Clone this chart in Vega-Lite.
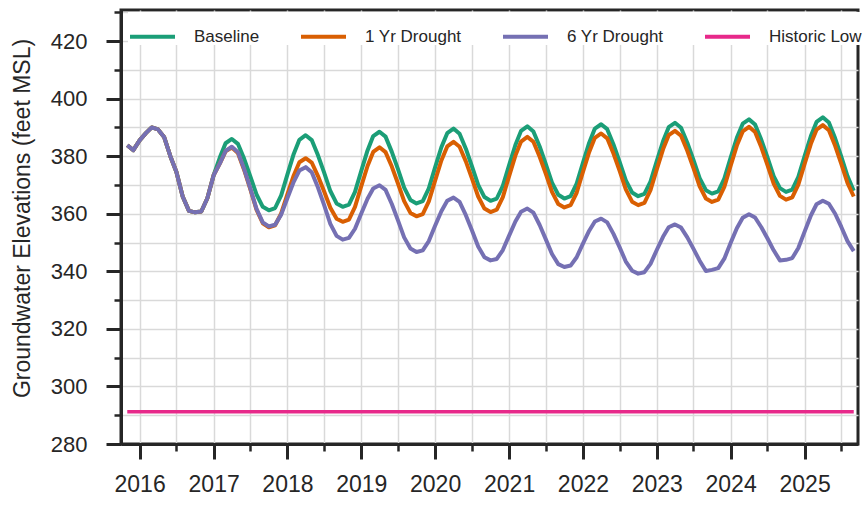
{
"$schema":"https://vega.github.io/schema/vega-lite/v6.json",
"width":737,"height":434,"autosize":"none",
"padding":{"left":121,"top":10,"right":7,"bottom":61},
"background":"white",
"config":{"font":"Liberation Sans","view":{"stroke":"#262626","strokeWidth":3}},
"data":{"values":[
{"date":"2015-11-01T00:00","series":"Baseline","value":383.8},{"date":"2015-12-01T00:00","series":"Baseline","value":382.1},
{"date":"2016-01-01T00:00","series":"Baseline","value":385.5},{"date":"2016-02-01T00:00","series":"Baseline","value":388.0},{"date":"2016-03-01T00:00","series":"Baseline","value":390.0},{"date":"2016-04-01T00:00","series":"Baseline","value":389.3},{"date":"2016-05-01T00:00","series":"Baseline","value":386.7},{"date":"2016-06-01T00:00","series":"Baseline","value":380.0},{"date":"2016-07-01T00:00","series":"Baseline","value":374.5},{"date":"2016-08-01T00:00","series":"Baseline","value":366.0},{"date":"2016-09-01T00:00","series":"Baseline","value":361.0},{"date":"2016-10-01T00:00","series":"Baseline","value":360.5},{"date":"2016-11-01T00:00","series":"Baseline","value":360.8},{"date":"2016-12-01T00:00","series":"Baseline","value":365.4},
{"date":"2017-01-01T00:00","series":"Baseline","value":373.4},{"date":"2017-02-01T00:00","series":"Baseline","value":379.6},{"date":"2017-03-01T00:00","series":"Baseline","value":384.5},{"date":"2017-04-01T00:00","series":"Baseline","value":386.0},{"date":"2017-05-01T00:00","series":"Baseline","value":384.3},{"date":"2017-06-01T00:00","series":"Baseline","value":379.1},{"date":"2017-07-01T00:00","series":"Baseline","value":373.1},{"date":"2017-08-01T00:00","series":"Baseline","value":366.7},{"date":"2017-09-01T00:00","series":"Baseline","value":362.4},{"date":"2017-10-01T00:00","series":"Baseline","value":361.2},{"date":"2017-11-01T00:00","series":"Baseline","value":362.0},{"date":"2017-12-01T00:00","series":"Baseline","value":366.4},
{"date":"2018-01-01T00:00","series":"Baseline","value":373.7},{"date":"2018-02-01T00:00","series":"Baseline","value":380.8},{"date":"2018-03-01T00:00","series":"Baseline","value":385.7},{"date":"2018-04-01T00:00","series":"Baseline","value":387.3},{"date":"2018-05-01T00:00","series":"Baseline","value":385.6},{"date":"2018-06-01T00:00","series":"Baseline","value":380.3},{"date":"2018-07-01T00:00","series":"Baseline","value":374.4},{"date":"2018-08-01T00:00","series":"Baseline","value":367.9},{"date":"2018-09-01T00:00","series":"Baseline","value":363.6},{"date":"2018-10-01T00:00","series":"Baseline","value":362.4},{"date":"2018-11-01T00:00","series":"Baseline","value":363.2},{"date":"2018-12-01T00:00","series":"Baseline","value":367.6},
{"date":"2019-01-01T00:00","series":"Baseline","value":374.9},{"date":"2019-02-01T00:00","series":"Baseline","value":382.0},{"date":"2019-03-01T00:00","series":"Baseline","value":387.0},{"date":"2019-04-01T00:00","series":"Baseline","value":388.5},{"date":"2019-05-01T00:00","series":"Baseline","value":386.8},{"date":"2019-06-01T00:00","series":"Baseline","value":381.5},{"date":"2019-07-01T00:00","series":"Baseline","value":375.6},{"date":"2019-08-01T00:00","series":"Baseline","value":369.1},{"date":"2019-09-01T00:00","series":"Baseline","value":364.8},{"date":"2019-10-01T00:00","series":"Baseline","value":363.6},{"date":"2019-11-01T00:00","series":"Baseline","value":364.4},{"date":"2019-12-01T00:00","series":"Baseline","value":368.8},
{"date":"2020-01-01T00:00","series":"Baseline","value":376.1},{"date":"2020-02-01T00:00","series":"Baseline","value":383.1},{"date":"2020-03-01T00:00","series":"Baseline","value":388.0},{"date":"2020-04-01T00:00","series":"Baseline","value":389.6},{"date":"2020-05-01T00:00","series":"Baseline","value":387.8},{"date":"2020-06-01T00:00","series":"Baseline","value":382.6},{"date":"2020-07-01T00:00","series":"Baseline","value":376.5},{"date":"2020-08-01T00:00","series":"Baseline","value":370.0},{"date":"2020-09-01T00:00","series":"Baseline","value":365.8},{"date":"2020-10-01T00:00","series":"Baseline","value":364.5},{"date":"2020-11-01T00:00","series":"Baseline","value":365.3},{"date":"2020-12-01T00:00","series":"Baseline","value":369.7},
{"date":"2021-01-01T00:00","series":"Baseline","value":376.9},{"date":"2021-02-01T00:00","series":"Baseline","value":383.9},{"date":"2021-03-01T00:00","series":"Baseline","value":388.8},{"date":"2021-04-01T00:00","series":"Baseline","value":390.4},{"date":"2021-05-01T00:00","series":"Baseline","value":388.6},{"date":"2021-06-01T00:00","series":"Baseline","value":383.4},{"date":"2021-07-01T00:00","series":"Baseline","value":377.3},{"date":"2021-08-01T00:00","series":"Baseline","value":370.8},{"date":"2021-09-01T00:00","series":"Baseline","value":366.6},{"date":"2021-10-01T00:00","series":"Baseline","value":365.3},{"date":"2021-11-01T00:00","series":"Baseline","value":366.1},{"date":"2021-12-01T00:00","series":"Baseline","value":370.5},
{"date":"2022-01-01T00:00","series":"Baseline","value":377.7},{"date":"2022-02-01T00:00","series":"Baseline","value":384.7},{"date":"2022-03-01T00:00","series":"Baseline","value":389.6},{"date":"2022-04-01T00:00","series":"Baseline","value":391.1},{"date":"2022-05-01T00:00","series":"Baseline","value":389.4},{"date":"2022-06-01T00:00","series":"Baseline","value":384.1},{"date":"2022-07-01T00:00","series":"Baseline","value":378.1},{"date":"2022-08-01T00:00","series":"Baseline","value":371.6},{"date":"2022-09-01T00:00","series":"Baseline","value":367.4},{"date":"2022-10-01T00:00","series":"Baseline","value":366.1},{"date":"2022-11-01T00:00","series":"Baseline","value":366.9},{"date":"2022-12-01T00:00","series":"Baseline","value":371.2},
{"date":"2023-01-01T00:00","series":"Baseline","value":378.3},{"date":"2023-02-01T00:00","series":"Baseline","value":385.2},{"date":"2023-03-01T00:00","series":"Baseline","value":390.1},{"date":"2023-04-01T00:00","series":"Baseline","value":391.6},{"date":"2023-05-01T00:00","series":"Baseline","value":389.9},{"date":"2023-06-01T00:00","series":"Baseline","value":384.7},{"date":"2023-07-01T00:00","series":"Baseline","value":378.8},{"date":"2023-08-01T00:00","series":"Baseline","value":372.4},{"date":"2023-09-01T00:00","series":"Baseline","value":368.2},{"date":"2023-10-01T00:00","series":"Baseline","value":367.0},{"date":"2023-11-01T00:00","series":"Baseline","value":367.8},{"date":"2023-12-01T00:00","series":"Baseline","value":372.2},
{"date":"2024-01-01T00:00","series":"Baseline","value":379.4},{"date":"2024-02-01T00:00","series":"Baseline","value":386.4},{"date":"2024-03-01T00:00","series":"Baseline","value":391.3},{"date":"2024-04-01T00:00","series":"Baseline","value":392.8},{"date":"2024-05-01T00:00","series":"Baseline","value":391.0},{"date":"2024-06-01T00:00","series":"Baseline","value":385.7},{"date":"2024-07-01T00:00","series":"Baseline","value":379.7},{"date":"2024-08-01T00:00","series":"Baseline","value":373.1},{"date":"2024-09-01T00:00","series":"Baseline","value":368.9},{"date":"2024-10-01T00:00","series":"Baseline","value":367.6},{"date":"2024-11-01T00:00","series":"Baseline","value":368.4},{"date":"2024-12-01T00:00","series":"Baseline","value":372.8},
{"date":"2025-01-01T00:00","series":"Baseline","value":380.0},{"date":"2025-02-01T00:00","series":"Baseline","value":387.0},{"date":"2025-03-01T00:00","series":"Baseline","value":391.9},{"date":"2025-04-01T00:00","series":"Baseline","value":393.5},{"date":"2025-05-01T00:00","series":"Baseline","value":391.7},{"date":"2025-06-01T00:00","series":"Baseline","value":386.2},{"date":"2025-07-01T00:00","series":"Baseline","value":379.9},{"date":"2025-08-01T00:00","series":"Baseline","value":373.1},{"date":"2025-09-01T00:00","series":"Baseline","value":368.0},

{"date":"2015-11-01T00:00","series":"1 Yr Drought","value":383.8},{"date":"2015-12-01T00:00","series":"1 Yr Drought","value":382.1},
{"date":"2016-01-01T00:00","series":"1 Yr Drought","value":385.5},{"date":"2016-02-01T00:00","series":"1 Yr Drought","value":388.0},{"date":"2016-03-01T00:00","series":"1 Yr Drought","value":390.0},{"date":"2016-04-01T00:00","series":"1 Yr Drought","value":389.3},{"date":"2016-05-01T00:00","series":"1 Yr Drought","value":386.7},{"date":"2016-06-01T00:00","series":"1 Yr Drought","value":380.0},{"date":"2016-07-01T00:00","series":"1 Yr Drought","value":374.5},{"date":"2016-08-01T00:00","series":"1 Yr Drought","value":366.0},{"date":"2016-09-01T00:00","series":"1 Yr Drought","value":361.0},{"date":"2016-10-01T00:00","series":"1 Yr Drought","value":360.5},{"date":"2016-11-01T00:00","series":"1 Yr Drought","value":360.8},{"date":"2016-12-01T00:00","series":"1 Yr Drought","value":365.4},
{"date":"2017-01-01T00:00","series":"1 Yr Drought","value":373.4},{"date":"2017-02-01T00:00","series":"1 Yr Drought","value":377.5},{"date":"2017-03-01T00:00","series":"1 Yr Drought","value":381.7},{"date":"2017-04-01T00:00","series":"1 Yr Drought","value":383.0},{"date":"2017-05-01T00:00","series":"1 Yr Drought","value":381.1},{"date":"2017-06-01T00:00","series":"1 Yr Drought","value":375.2},{"date":"2017-07-01T00:00","series":"1 Yr Drought","value":368.6},{"date":"2017-08-01T00:00","series":"1 Yr Drought","value":361.4},{"date":"2017-09-01T00:00","series":"1 Yr Drought","value":356.7},{"date":"2017-10-01T00:00","series":"1 Yr Drought","value":355.3},{"date":"2017-11-01T00:00","series":"1 Yr Drought","value":356.0},{"date":"2017-12-01T00:00","series":"1 Yr Drought","value":360.1},
{"date":"2018-01-01T00:00","series":"1 Yr Drought","value":366.8},{"date":"2018-02-01T00:00","series":"1 Yr Drought","value":373.3},{"date":"2018-03-01T00:00","series":"1 Yr Drought","value":377.9},{"date":"2018-04-01T00:00","series":"1 Yr Drought","value":379.3},{"date":"2018-05-01T00:00","series":"1 Yr Drought","value":377.8},{"date":"2018-06-01T00:00","series":"1 Yr Drought","value":373.1},{"date":"2018-07-01T00:00","series":"1 Yr Drought","value":367.8},{"date":"2018-08-01T00:00","series":"1 Yr Drought","value":362.1},{"date":"2018-09-01T00:00","series":"1 Yr Drought","value":358.3},{"date":"2018-10-01T00:00","series":"1 Yr Drought","value":357.2},{"date":"2018-11-01T00:00","series":"1 Yr Drought","value":358.0},{"date":"2018-12-01T00:00","series":"1 Yr Drought","value":362.4},
{"date":"2019-01-01T00:00","series":"1 Yr Drought","value":369.6},{"date":"2019-02-01T00:00","series":"1 Yr Drought","value":376.6},{"date":"2019-03-01T00:00","series":"1 Yr Drought","value":381.5},{"date":"2019-04-01T00:00","series":"1 Yr Drought","value":383.1},{"date":"2019-05-01T00:00","series":"1 Yr Drought","value":381.4},{"date":"2019-06-01T00:00","series":"1 Yr Drought","value":376.4},{"date":"2019-07-01T00:00","series":"1 Yr Drought","value":370.6},{"date":"2019-08-01T00:00","series":"1 Yr Drought","value":364.4},{"date":"2019-09-01T00:00","series":"1 Yr Drought","value":360.3},{"date":"2019-10-01T00:00","series":"1 Yr Drought","value":359.1},{"date":"2019-11-01T00:00","series":"1 Yr Drought","value":359.9},{"date":"2019-12-01T00:00","series":"1 Yr Drought","value":364.3},
{"date":"2020-01-01T00:00","series":"1 Yr Drought","value":371.5},{"date":"2020-02-01T00:00","series":"1 Yr Drought","value":378.5},{"date":"2020-03-01T00:00","series":"1 Yr Drought","value":383.4},{"date":"2020-04-01T00:00","series":"1 Yr Drought","value":385.0},{"date":"2020-05-01T00:00","series":"1 Yr Drought","value":383.3},{"date":"2020-06-01T00:00","series":"1 Yr Drought","value":378.2},{"date":"2020-07-01T00:00","series":"1 Yr Drought","value":372.3},{"date":"2020-08-01T00:00","series":"1 Yr Drought","value":366.0},{"date":"2020-09-01T00:00","series":"1 Yr Drought","value":361.8},{"date":"2020-10-01T00:00","series":"1 Yr Drought","value":360.6},{"date":"2020-11-01T00:00","series":"1 Yr Drought","value":361.4},{"date":"2020-12-01T00:00","series":"1 Yr Drought","value":365.8},
{"date":"2021-01-01T00:00","series":"1 Yr Drought","value":373.1},{"date":"2021-02-01T00:00","series":"1 Yr Drought","value":380.2},{"date":"2021-03-01T00:00","series":"1 Yr Drought","value":385.1},{"date":"2021-04-01T00:00","series":"1 Yr Drought","value":386.7},{"date":"2021-05-01T00:00","series":"1 Yr Drought","value":385.0},{"date":"2021-06-01T00:00","series":"1 Yr Drought","value":379.8},{"date":"2021-07-01T00:00","series":"1 Yr Drought","value":374.0},{"date":"2021-08-01T00:00","series":"1 Yr Drought","value":367.6},{"date":"2021-09-01T00:00","series":"1 Yr Drought","value":363.4},{"date":"2021-10-01T00:00","series":"1 Yr Drought","value":362.2},{"date":"2021-11-01T00:00","series":"1 Yr Drought","value":363.0},{"date":"2021-12-01T00:00","series":"1 Yr Drought","value":367.3},
{"date":"2022-01-01T00:00","series":"1 Yr Drought","value":374.5},{"date":"2022-02-01T00:00","series":"1 Yr Drought","value":381.5},{"date":"2022-03-01T00:00","series":"1 Yr Drought","value":386.4},{"date":"2022-04-01T00:00","series":"1 Yr Drought","value":387.9},{"date":"2022-05-01T00:00","series":"1 Yr Drought","value":386.2},{"date":"2022-06-01T00:00","series":"1 Yr Drought","value":380.9},{"date":"2022-07-01T00:00","series":"1 Yr Drought","value":375.0},{"date":"2022-08-01T00:00","series":"1 Yr Drought","value":368.5},{"date":"2022-09-01T00:00","series":"1 Yr Drought","value":364.2},{"date":"2022-10-01T00:00","series":"1 Yr Drought","value":363.0},{"date":"2022-11-01T00:00","series":"1 Yr Drought","value":363.8},{"date":"2022-12-01T00:00","series":"1 Yr Drought","value":368.2},
{"date":"2023-01-01T00:00","series":"1 Yr Drought","value":375.4},{"date":"2023-02-01T00:00","series":"1 Yr Drought","value":382.4},{"date":"2023-03-01T00:00","series":"1 Yr Drought","value":387.3},{"date":"2023-04-01T00:00","series":"1 Yr Drought","value":388.8},{"date":"2023-05-01T00:00","series":"1 Yr Drought","value":387.1},{"date":"2023-06-01T00:00","series":"1 Yr Drought","value":381.9},{"date":"2023-07-01T00:00","series":"1 Yr Drought","value":376.0},{"date":"2023-08-01T00:00","series":"1 Yr Drought","value":369.5},{"date":"2023-09-01T00:00","series":"1 Yr Drought","value":365.3},{"date":"2023-10-01T00:00","series":"1 Yr Drought","value":364.1},{"date":"2023-11-01T00:00","series":"1 Yr Drought","value":364.9},{"date":"2023-12-01T00:00","series":"1 Yr Drought","value":369.3},
{"date":"2024-01-01T00:00","series":"1 Yr Drought","value":376.6},{"date":"2024-02-01T00:00","series":"1 Yr Drought","value":383.7},{"date":"2024-03-01T00:00","series":"1 Yr Drought","value":388.6},{"date":"2024-04-01T00:00","series":"1 Yr Drought","value":390.2},{"date":"2024-05-01T00:00","series":"1 Yr Drought","value":388.4},{"date":"2024-06-01T00:00","series":"1 Yr Drought","value":383.1},{"date":"2024-07-01T00:00","series":"1 Yr Drought","value":377.0},{"date":"2024-08-01T00:00","series":"1 Yr Drought","value":370.5},{"date":"2024-09-01T00:00","series":"1 Yr Drought","value":366.2},{"date":"2024-10-01T00:00","series":"1 Yr Drought","value":364.9},{"date":"2024-11-01T00:00","series":"1 Yr Drought","value":365.7},{"date":"2024-12-01T00:00","series":"1 Yr Drought","value":370.1},
{"date":"2025-01-01T00:00","series":"1 Yr Drought","value":377.3},{"date":"2025-02-01T00:00","series":"1 Yr Drought","value":384.3},{"date":"2025-03-01T00:00","series":"1 Yr Drought","value":389.2},{"date":"2025-04-01T00:00","series":"1 Yr Drought","value":390.8},{"date":"2025-05-01T00:00","series":"1 Yr Drought","value":389.0},{"date":"2025-06-01T00:00","series":"1 Yr Drought","value":383.6},{"date":"2025-07-01T00:00","series":"1 Yr Drought","value":377.4},{"date":"2025-08-01T00:00","series":"1 Yr Drought","value":370.7},{"date":"2025-09-01T00:00","series":"1 Yr Drought","value":366.0},

{"date":"2015-11-01T00:00","series":"6 Yr Drought","value":383.8},{"date":"2015-12-01T00:00","series":"6 Yr Drought","value":382.1},
{"date":"2016-01-01T00:00","series":"6 Yr Drought","value":385.5},{"date":"2016-02-01T00:00","series":"6 Yr Drought","value":388.0},{"date":"2016-03-01T00:00","series":"6 Yr Drought","value":390.0},{"date":"2016-04-01T00:00","series":"6 Yr Drought","value":389.3},{"date":"2016-05-01T00:00","series":"6 Yr Drought","value":386.7},{"date":"2016-06-01T00:00","series":"6 Yr Drought","value":380.0},{"date":"2016-07-01T00:00","series":"6 Yr Drought","value":374.5},{"date":"2016-08-01T00:00","series":"6 Yr Drought","value":366.0},{"date":"2016-09-01T00:00","series":"6 Yr Drought","value":361.0},{"date":"2016-10-01T00:00","series":"6 Yr Drought","value":360.5},{"date":"2016-11-01T00:00","series":"6 Yr Drought","value":360.8},{"date":"2016-12-01T00:00","series":"6 Yr Drought","value":365.4},
{"date":"2017-01-01T00:00","series":"6 Yr Drought","value":373.4},{"date":"2017-02-01T00:00","series":"6 Yr Drought","value":377.5},{"date":"2017-03-01T00:00","series":"6 Yr Drought","value":381.8},{"date":"2017-04-01T00:00","series":"6 Yr Drought","value":383.3},{"date":"2017-05-01T00:00","series":"6 Yr Drought","value":381.4},{"date":"2017-06-01T00:00","series":"6 Yr Drought","value":375.5},{"date":"2017-07-01T00:00","series":"6 Yr Drought","value":368.9},{"date":"2017-08-01T00:00","series":"6 Yr Drought","value":361.7},{"date":"2017-09-01T00:00","series":"6 Yr Drought","value":357.0},{"date":"2017-10-01T00:00","series":"6 Yr Drought","value":355.6},{"date":"2017-11-01T00:00","series":"6 Yr Drought","value":356.2},{"date":"2017-12-01T00:00","series":"6 Yr Drought","value":359.7},
{"date":"2018-01-01T00:00","series":"6 Yr Drought","value":365.5},{"date":"2018-02-01T00:00","series":"6 Yr Drought","value":371.1},{"date":"2018-03-01T00:00","series":"6 Yr Drought","value":375.0},{"date":"2018-04-01T00:00","series":"6 Yr Drought","value":376.2},{"date":"2018-05-01T00:00","series":"6 Yr Drought","value":374.4},{"date":"2018-06-01T00:00","series":"6 Yr Drought","value":369.1},{"date":"2018-07-01T00:00","series":"6 Yr Drought","value":363.1},{"date":"2018-08-01T00:00","series":"6 Yr Drought","value":356.5},{"date":"2018-09-01T00:00","series":"6 Yr Drought","value":352.3},{"date":"2018-10-01T00:00","series":"6 Yr Drought","value":351.0},{"date":"2018-11-01T00:00","series":"6 Yr Drought","value":351.6},{"date":"2018-12-01T00:00","series":"6 Yr Drought","value":354.8},
{"date":"2019-01-01T00:00","series":"6 Yr Drought","value":360.1},{"date":"2019-02-01T00:00","series":"6 Yr Drought","value":365.2},{"date":"2019-03-01T00:00","series":"6 Yr Drought","value":368.8},{"date":"2019-04-01T00:00","series":"6 Yr Drought","value":369.9},{"date":"2019-05-01T00:00","series":"6 Yr Drought","value":368.3},{"date":"2019-06-01T00:00","series":"6 Yr Drought","value":363.4},{"date":"2019-07-01T00:00","series":"6 Yr Drought","value":357.8},{"date":"2019-08-01T00:00","series":"6 Yr Drought","value":351.8},{"date":"2019-09-01T00:00","series":"6 Yr Drought","value":347.9},{"date":"2019-10-01T00:00","series":"6 Yr Drought","value":346.7},{"date":"2019-11-01T00:00","series":"6 Yr Drought","value":347.3},{"date":"2019-12-01T00:00","series":"6 Yr Drought","value":350.5},
{"date":"2020-01-01T00:00","series":"6 Yr Drought","value":355.8},{"date":"2020-02-01T00:00","series":"6 Yr Drought","value":360.9},{"date":"2020-03-01T00:00","series":"6 Yr Drought","value":364.5},{"date":"2020-04-01T00:00","series":"6 Yr Drought","value":365.6},{"date":"2020-05-01T00:00","series":"6 Yr Drought","value":364.1},{"date":"2020-06-01T00:00","series":"6 Yr Drought","value":359.5},{"date":"2020-07-01T00:00","series":"6 Yr Drought","value":354.3},{"date":"2020-08-01T00:00","series":"6 Yr Drought","value":348.6},{"date":"2020-09-01T00:00","series":"6 Yr Drought","value":344.9},{"date":"2020-10-01T00:00","series":"6 Yr Drought","value":343.8},{"date":"2020-11-01T00:00","series":"6 Yr Drought","value":344.3},{"date":"2020-12-01T00:00","series":"6 Yr Drought","value":347.4},
{"date":"2021-01-01T00:00","series":"6 Yr Drought","value":352.4},{"date":"2021-02-01T00:00","series":"6 Yr Drought","value":357.3},{"date":"2021-03-01T00:00","series":"6 Yr Drought","value":360.7},{"date":"2021-04-01T00:00","series":"6 Yr Drought","value":361.8},{"date":"2021-05-01T00:00","series":"6 Yr Drought","value":360.4},{"date":"2021-06-01T00:00","series":"6 Yr Drought","value":356.1},{"date":"2021-07-01T00:00","series":"6 Yr Drought","value":351.2},{"date":"2021-08-01T00:00","series":"6 Yr Drought","value":346.0},{"date":"2021-09-01T00:00","series":"6 Yr Drought","value":342.5},{"date":"2021-10-01T00:00","series":"6 Yr Drought","value":341.5},{"date":"2021-11-01T00:00","series":"6 Yr Drought","value":342.0},{"date":"2021-12-01T00:00","series":"6 Yr Drought","value":344.9},
{"date":"2022-01-01T00:00","series":"6 Yr Drought","value":349.6},{"date":"2022-02-01T00:00","series":"6 Yr Drought","value":354.1},{"date":"2022-03-01T00:00","series":"6 Yr Drought","value":357.3},{"date":"2022-04-01T00:00","series":"6 Yr Drought","value":358.3},{"date":"2022-05-01T00:00","series":"6 Yr Drought","value":357.0},{"date":"2022-06-01T00:00","series":"6 Yr Drought","value":353.0},{"date":"2022-07-01T00:00","series":"6 Yr Drought","value":348.4},{"date":"2022-08-01T00:00","series":"6 Yr Drought","value":343.4},{"date":"2022-09-01T00:00","series":"6 Yr Drought","value":340.2},{"date":"2022-10-01T00:00","series":"6 Yr Drought","value":339.2},{"date":"2022-11-01T00:00","series":"6 Yr Drought","value":339.7},{"date":"2022-12-01T00:00","series":"6 Yr Drought","value":342.6},
{"date":"2023-01-01T00:00","series":"6 Yr Drought","value":347.4},{"date":"2023-02-01T00:00","series":"6 Yr Drought","value":352.0},{"date":"2023-03-01T00:00","series":"6 Yr Drought","value":355.3},{"date":"2023-04-01T00:00","series":"6 Yr Drought","value":356.3},{"date":"2023-05-01T00:00","series":"6 Yr Drought","value":355.2},{"date":"2023-06-01T00:00","series":"6 Yr Drought","value":351.8},{"date":"2023-07-01T00:00","series":"6 Yr Drought","value":347.9},{"date":"2023-08-01T00:00","series":"6 Yr Drought","value":343.7},{"date":"2023-09-01T00:00","series":"6 Yr Drought","value":340.1},{"date":"2023-10-01T00:00","series":"6 Yr Drought","value":340.5},{"date":"2023-11-01T00:00","series":"6 Yr Drought","value":341.1},{"date":"2023-12-01T00:00","series":"6 Yr Drought","value":344.4},
{"date":"2024-01-01T00:00","series":"6 Yr Drought","value":349.8},{"date":"2024-02-01T00:00","series":"6 Yr Drought","value":355.0},{"date":"2024-03-01T00:00","series":"6 Yr Drought","value":358.6},{"date":"2024-04-01T00:00","series":"6 Yr Drought","value":359.8},{"date":"2024-05-01T00:00","series":"6 Yr Drought","value":358.7},{"date":"2024-06-01T00:00","series":"6 Yr Drought","value":355.3},{"date":"2024-07-01T00:00","series":"6 Yr Drought","value":351.5},{"date":"2024-08-01T00:00","series":"6 Yr Drought","value":347.3},{"date":"2024-09-01T00:00","series":"6 Yr Drought","value":343.8},{"date":"2024-10-01T00:00","series":"6 Yr Drought","value":344.0},{"date":"2024-11-01T00:00","series":"6 Yr Drought","value":344.6},{"date":"2024-12-01T00:00","series":"6 Yr Drought","value":348.1},
{"date":"2025-01-01T00:00","series":"6 Yr Drought","value":353.8},{"date":"2025-02-01T00:00","series":"6 Yr Drought","value":359.4},{"date":"2025-03-01T00:00","series":"6 Yr Drought","value":363.3},{"date":"2025-04-01T00:00","series":"6 Yr Drought","value":364.5},{"date":"2025-05-01T00:00","series":"6 Yr Drought","value":363.5},{"date":"2025-06-01T00:00","series":"6 Yr Drought","value":360.0},{"date":"2025-07-01T00:00","series":"6 Yr Drought","value":355.5},{"date":"2025-08-01T00:00","series":"6 Yr Drought","value":350.5},{"date":"2025-09-01T00:00","series":"6 Yr Drought","value":347.0},

{"date":"2015-11-01T00:00","series":"Historic Low","value":291.2},{"date":"2025-09-01T00:00","series":"Historic Low","value":291.2}
]},
"layer":[
{
"transform":[{"filter":"datum.series === 'Historic Low'"}],
"mark":{"type":"line","strokeWidth":3.5},
"encoding":{
"x":{"field":"date","type":"temporal","scale":{"domain":[{"year":2015,"month":10,"date":1},{"year":2025,"month":9,"date":22}]},
"axis":{"orient":"bottom","title":null,"values":[{"year":2016,"month":1,"date":1},{"year":2016,"month":7,"date":1},{"year":2017,"month":1,"date":1},{"year":2017,"month":7,"date":1},{"year":2018,"month":1,"date":1},{"year":2018,"month":7,"date":1},{"year":2019,"month":1,"date":1},{"year":2019,"month":7,"date":1},{"year":2020,"month":1,"date":1},{"year":2020,"month":7,"date":1},{"year":2021,"month":1,"date":1},{"year":2021,"month":7,"date":1},{"year":2022,"month":1,"date":1},{"year":2022,"month":7,"date":1},{"year":2023,"month":1,"date":1},{"year":2023,"month":7,"date":1},{"year":2024,"month":1,"date":1},{"year":2024,"month":7,"date":1},{"year":2025,"month":1,"date":1},{"year":2025,"month":7,"date":1}],
"labels":false,"domain":false,"grid":true,"gridColor":"#d9d9d9","gridWidth":1.5,"tickSize":7,"tickWidth":2.5,"tickColor":"#262626"}},
"y":{"field":"value","type":"quantitative","scale":{"domain":[280,430.8],"nice":false,"zero":false},
"axis":{"orient":"left","title":null,"values":[290,300,310,320,330,340,350,360,370,380,390,400,410,420,430],"labels":false,"domain":false,"grid":true,"gridColor":"#d9d9d9","gridWidth":1.5,"tickSize":7,"tickWidth":2.5,"tickColor":"#262626"}},
"color":{"field":"series","type":"nominal"}
}
},
{
"transform":[{"filter":"datum.series !== 'Historic Low'"}],
"mark":{"type":"line","strokeWidth":4,"strokeJoin":"round"},
"encoding":{
"x":{"field":"date","type":"temporal",
"axis":{"orient":"bottom","title":null,"format":"%Y","values":[{"year":2016,"month":1,"date":1},{"year":2017,"month":1,"date":1},{"year":2018,"month":1,"date":1},{"year":2019,"month":1,"date":1},{"year":2020,"month":1,"date":1},{"year":2021,"month":1,"date":1},{"year":2022,"month":1,"date":1},{"year":2023,"month":1,"date":1},{"year":2024,"month":1,"date":1},{"year":2025,"month":1,"date":1}],
"grid":false,"domainColor":"#262626","domainWidth":3,"tickSize":15,"tickWidth":3,"tickColor":"#262626","labelFontSize":23,"labelColor":"#262626","labelPadding":14,"labelFlush":false,"labelOverlap":false}},
"y":{"field":"value","type":"quantitative",
"axis":{"orient":"left","title":"Groundwater Elevations (feet MSL)","values":[280,300,320,340,360,380,400,420],"grid":false,"domainColor":"#262626","domainWidth":3,"tickSize":15,"tickWidth":3,"tickColor":"#262626","labelFontSize":22,"labelColor":"#262626","labelPadding":19,"titleFontSize":23,"titleFontWeight":"normal","titleColor":"#262626","titleX":-99,"titleY":208,"titleBaseline":"middle","titleAngle":-90}},
"color":{"field":"series","type":"nominal",
"scale":{"domain":["Baseline","1 Yr Drought","6 Yr Drought","Historic Low"],"range":["#1b9e77","#d95f02","#7570b3","#e7298a"]},
"legend":{"orient":"none","legendX":7,"legendY":2,"direction":"horizontal","title":null,"fillColor":"white","padding":0,"symbolType":"stroke","symbolSize":2025,"symbolStrokeWidth":4,"labelFontSize":17,"labelColor":"#262626","labelOffset":17,"columnPadding":33}}
}
}
],
"resolve":{"axis":{"x":"independent","y":"independent"}}
}
